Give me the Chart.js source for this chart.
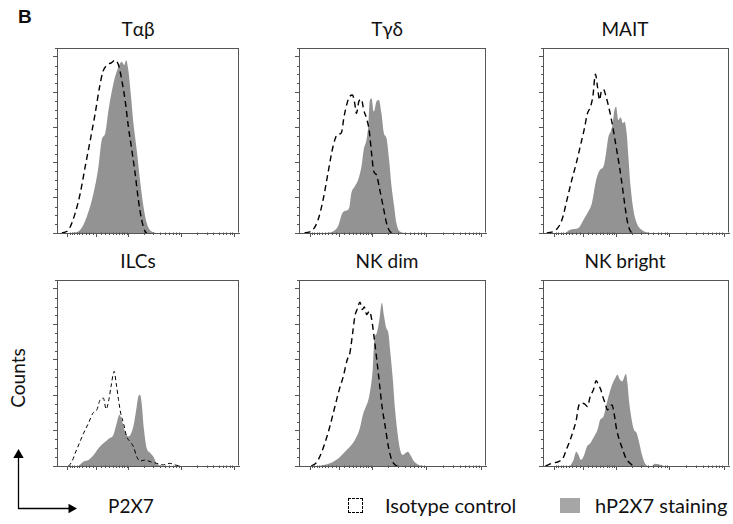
<!DOCTYPE html>
<html><head><meta charset="utf-8">
<script src="https://cdn.jsdelivr.net/npm/chart.js@4.4.0/dist/chart.umd.min.js"></script>
<style>
html,body{margin:0;padding:0;background:#fff;}
body{width:733px;height:524px;overflow:hidden;position:relative;font-family:Lato,"Open Sans",sans-serif;color:#111;}
.t{position:absolute;width:200px;text-align:center;font-size:19px;line-height:20px;white-space:nowrap;}
.pan{position:absolute;}
.lbl{position:absolute;font-size:19px;line-height:20px;white-space:nowrap;}
</style></head><body>
<div class="lbl" style="left:18px;top:7px;font-family:'Liberation Sans',Arial,sans-serif;font-weight:bold;font-size:19px;">B</div>
<div class="lbl" id="counts" style="left:-12px;top:368px;width:60px;text-align:center;transform:rotate(-90deg);">Counts</div>
<div class="lbl" style="left:108px;top:496px;">P2X7</div>
<svg style="position:absolute;left:0;top:440px" width="90" height="80">
  <line x1="18.5" y1="69" x2="18.5" y2="16" stroke="#000" stroke-width="1.3"/>
  <polygon points="18.5,9 13.3,18 23.7,18" fill="#000"/>
  <line x1="18" y1="68.5" x2="70" y2="68.5" stroke="#000" stroke-width="1.3"/>
  <polygon points="77,68.5 68.5,63.8 68.5,73.2" fill="#000"/>
</svg>
<div style="position:absolute;left:348px;top:498px;width:15px;height:15px;box-sizing:border-box;border:1px dashed #000;"></div>
<div class="lbl" style="left:385px;top:495px;font-size:20px;">Isotype control</div>
<div style="position:absolute;left:560px;top:498px;width:20px;height:15px;background:#a6a6a6;"></div>
<div class="lbl" style="left:595px;top:495px;font-size:20px;">hP2X7 staining</div>
<script>
// ---------- data (x: display channel 0-1000, y: % of max counts) ----------
const panelTitles = ['Tαβ', 'Tγδ', 'MAIT', 'ILCs', 'NK dim', 'NK bright'];

const tabIso = [[27,0],[64,1.9],[100,11.3],[128,22.7],[155,37.7],[183,52.9],[210,68],[234,83],[252,91.5],[274,95.3],[298,96.6],[319,98.1],[338,95.3],[356,86.8],[374,75.5],[392,60.4],[411,47.2],[429,34],[447,18.9],[465,7.5],[484,0.9],[493,0]];
const tabStain = [[82,0],[128,1.9],[164,9.4],[201,22.7],[228,37.7],[246,52.9],[265,56.6],[283,69.8],[310,84.9],[338,94.4],[356,97.2],[369,95.3],[380,98.1],[392,92.5],[407,77.4],[420,62.3],[438,47.2],[456,30.2],[475,15.1],[493,5.7],[520,0.9],[557,0]];

const tgdIso = [[30,0],[75,1.9],[102,7.5],[129,18.9],[155,34],[182,49.1],[204,55.7],[227,57],[241,66.1],[257,73.6],[271,77.4],[286,78.3],[298,73.6],[307,67.9],[320,74.6],[334,75.9],[346,69.8],[361,65.1],[375,58.5],[388,45.3],[400,34.9],[414,33],[432,24.5],[450,15.1],[468,5.7],[486,0.9],[504,0]];
const tgdStain = [[146,0],[182,0.9],[209,3.8],[232,11.3],[250,12.6],[268,14.2],[280,22.7],[298,26.4],[316,30.2],[334,37.7],[346,47.2],[361,52.9],[370,60.4],[379,75.5],[388,76.4],[400,68.9],[414,74.6],[427,75.5],[441,67.9],[454,56.6],[468,53.8],[482,41.5],[495,26.4],[509,15.1],[521,5.7],[539,0.9],[575,0]];

const maitIso = [[21,0],[71,1.9],[102,7.5],[129,18.9],[155,30.2],[179,39.6],[200,49.1],[221,58.5],[239,67.9],[254,71.3],[268,77.4],[282,90.2],[293,83],[304,75.5],[313,80.2],[325,81.5],[339,77.4],[357,69.8],[375,60.4],[393,49.1],[411,37.7],[429,24.5],[441,15.1],[455,5.7],[471,0.9],[486,0]];
const maitStain = [[120,0],[146,1.9],[191,2.8],[218,7.5],[239,11.3],[263,17],[286,30.2],[307,35.9],[325,37.7],[339,45.3],[352,54.7],[364,57.6],[375,62.3],[384,69.8],[393,71.7],[405,64.2],[418,65.7],[429,62.3],[438,63.2],[450,56.6],[459,43.4],[471,26.4],[486,13.2],[504,5.7],[530,1.9],[575,0]];

const ilcIso = [[64,0],[82,2.5],[100,7.2],[119,11.9],[146,18.5],[173,24.2],[197,29.8],[219,31.7],[237,37.4],[255,38.3],[270,32.1],[283,36.4],[297,44.9],[314,53.4],[325,46.8],[338,37.4],[350,29.8],[365,24.2],[383,16.6],[401,13.8],[420,10.9],[438,5.3],[456,2.8],[484,3.4],[511,2.5],[547,1.5],[584,0.6],[620,1.5],[648,0.6],[675,0]];
const ilcStain = [[119,0],[146,2.5],[173,3.4],[201,6.2],[228,10],[255,12.8],[283,15.3],[310,17.6],[328,24.2],[343,28.9],[356,26],[374,19.4],[392,16.6],[411,19.4],[423,24.2],[438,33.6],[447,39.3],[456,40.2],[465,35.5],[478,20.4],[493,10],[511,7.5],[529,5.3],[547,1.5],[575,0]];

const nkdIso = [[66,0],[93,1.9],[115,6.2],[138,12.8],[165,22.3],[192,33.6],[215,43],[237,50.6],[258,60],[272,63.8],[287,75.1],[299,84.6],[312,88.7],[326,92.5],[339,88.3],[349,89.8],[362,85.5],[376,87.4],[389,82.7],[401,73.2],[416,60],[430,46.8],[444,33.6],[461,22.3],[478,10.9],[496,3.4],[514,0.6],[532,0]];
const nkdStain = [[111,0],[165,1.5],[210,4.3],[246,8.1],[272,10.9],[299,14.7],[323,20.4],[344,29.8],[358,33.6],[371,37.4],[384,44.9],[394,54.4],[403,71.3],[416,75.1],[430,82.7],[443,92.1],[455,84.6],[466,78],[478,75.1],[487,65.7],[502,48.7],[514,31.7],[527,18.5],[541,9.1],[556,6.2],[568,7.2],[582,8.1],[599,5.7],[616,2.5],[640,0.6],[667,0]];

const nkbIso = [[13,0],[48,1.5],[84,2.5],[107,4.3],[125,9.1],[146,14.7],[164,20.4],[179,26],[191,33.6],[204,35.5],[223,35.1],[239,33.6],[254,39.3],[271,43],[286,48.1],[298,45.9],[311,43],[321,39.3],[334,35.5],[346,31.7],[361,33.6],[371,34.5],[382,29.8],[396,20.4],[411,14.7],[429,9.1],[446,4.3],[468,1.5],[486,0]];
const nkbStain = [[146,0],[164,3.4],[179,8.1],[191,6.2],[204,3.4],[218,5.3],[236,10.9],[254,12.8],[275,16.6],[293,20.4],[307,26],[325,27.9],[343,35.5],[357,41.1],[375,46.8],[388,49.6],[400,51.5],[414,48.7],[427,47.8],[438,50.6],[446,52.1],[454,46.8],[464,35.5],[477,26],[489,20.4],[504,18.5],[518,12.8],[530,7.2],[548,1.5],[566,0],[585,0],[602,1.2],[625,0.8],[650,0]];

// axis tick values (fluorescence, biexponential display)
const xMajor = [-1000, 0, 1000, 10000, 100000];
const xMinor = [-900,-800,-700,-600,-500,-400,-300,-200,-100,100,200,300,400,500,600,700,800,900,
  2000,3000,4000,5000,6000,7000,8000,9000,20000,30000,40000,50000,60000,70000,80000,90000];
const yMajor = [0, 20, 40, 60, 80, 100];
const yMinor = [5,10,15,25,30,35,45,50,55,65,70,75,85,90,95,105];

const panelIso = [tabIso, tgdIso, maitIso, ilcIso, nkdIso, nkbIso];
const panelStain = [tabStain, tgdStain, maitStain, ilcStain, nkdStain, nkbStain];

// ---------- layout ----------
const colLeft = [57, 299, 543], colW = [182, 187, 186];
const rowTop = [48, 280], rowH = [185, 186];
const titleCx = [138, 387, 625], titleTop = [19, 251];

function biex(v){
  if (v >= 0) return 219 + 128.1 * Math.asinh(v / 540);
  return 219 - 115.7 * Math.asinh(-v / 540);
}

const AX = '#555';
const boxTicks = {
  id: 'boxTicks',
  afterDraw(chart){
    const {ctx, chartArea: a, scales: {x, y}} = chart;
    ctx.save();
    ctx.strokeStyle = AX; ctx.lineWidth = 1;
    ctx.beginPath();
    const top = Math.round(a.top) + 0.5, right = Math.round(a.right) - 0.5, bot = Math.round(a.bottom) - 0.5, left = Math.round(a.left) + 0.5;
    ctx.moveTo(left, top); ctx.lineTo(right + 0.5, top);
    ctx.moveTo(right, top); ctx.lineTo(right, bot);
    xMinor.forEach(v => { const px = Math.round(x.getPixelForValue(biex(v))) + 0.5; ctx.moveTo(px, bot); ctx.lineTo(px, bot + 2.5); });
    yMinor.forEach(v => { const py = Math.round(y.getPixelForValue(v)) + 0.5; ctx.moveTo(left - 2.5, py); ctx.lineTo(left, py); });
    ctx.stroke();
    ctx.restore();
  }
};

const toXY = arr => arr.map(([x, y]) => ({x, y}));

for (let i = 0; i < 6; i++){
  const r = Math.floor(i / 3), c = i % 3;
  const l = colLeft[c], t = rowTop[r], w = colW[c], h = rowH[r];
  const title = document.createElement('div');
  title.className = 't';
  title.style.left = (titleCx[c] - 100) + 'px';
  title.style.top = titleTop[r] + 'px';
  title.textContent = panelTitles[i];
  document.body.appendChild(title);

  const cv = document.createElement('canvas');
  cv.className = 'pan';
  cv.width = w + 10; cv.height = h + 10;
  cv.style.left = (l - 8) + 'px'; cv.style.top = (t - 2) + 'px';
  document.body.appendChild(cv);

  const thin = i === 3;
  new Chart(cv, {
    type: 'line',
    data: {
      datasets: [
        {label: 'Isotype control', data: toXY(panelIso[i]), borderColor: '#000', borderWidth: thin ? 1 : 1.4,
         borderDash: thin ? [4, 3] : [6, 4], fill: false, pointRadius: 0, cubicInterpolationMode: 'monotone'},
        {label: 'hP2X7 staining', data: toXY(panelStain[i]), borderColor: 'rgba(0,0,0,0)', borderWidth: 0,
         backgroundColor: '#939393', fill: 'origin', pointRadius: 0, cubicInterpolationMode: 'monotone'}
      ]
    },
    options: {
      responsive: false, animation: false, devicePixelRatio: 1,
      layout: {padding: {left: 4, right: 2, top: 2, bottom: 4}},
      plugins: {legend: {display: false}, tooltip: {enabled: false}},
      scales: {
        x: {type: 'linear', min: 0, max: 1000,
            afterBuildTicks: s => { s.ticks = xMajor.map(v => ({value: biex(v)})); },
            ticks: {display: false},
            grid: {drawOnChartArea: false, drawTicks: true, tickLength: 4, color: AX, tickColor: AX},
            border: {display: true, color: AX, width: 1, z: 1}},
        y: {type: 'linear', min: 0, max: 105,
            afterBuildTicks: s => { s.ticks = yMajor.map(v => ({value: v})); },
            ticks: {display: false},
            grid: {drawOnChartArea: false, drawTicks: true, tickLength: 4, color: AX, tickColor: AX},
            border: {display: true, color: AX, width: 1, z: 1}}
      }
    },
    plugins: [boxTicks]
  });
}
</script>
</body></html>
